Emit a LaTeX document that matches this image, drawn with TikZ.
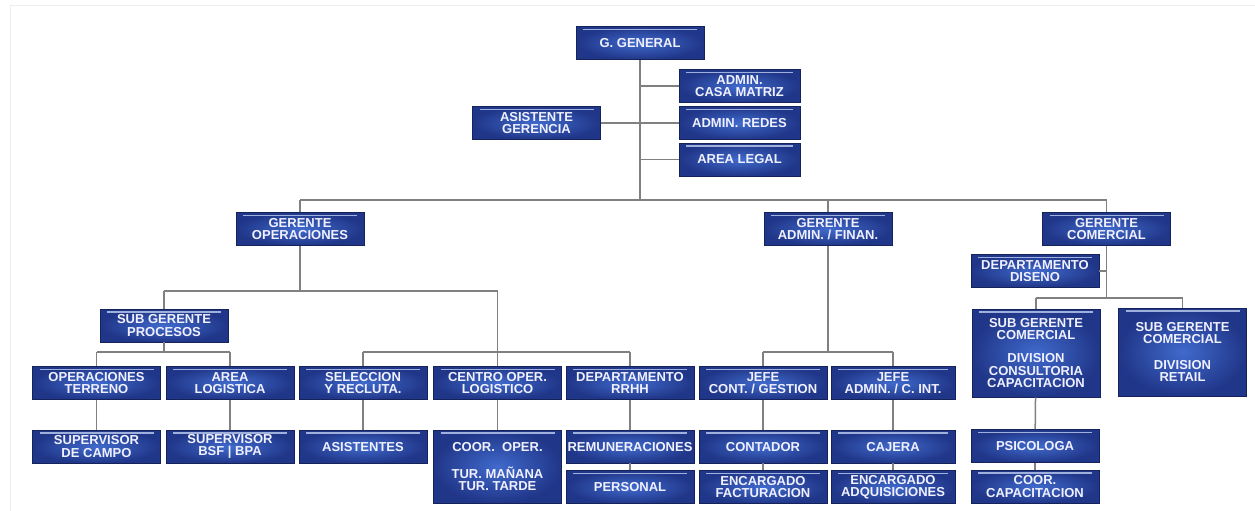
\documentclass[tikz,border=0pt]{standalone}
\usepackage{fontspec}
\setmainfont{Liberation Sans}
\usepackage{tikz}
\usetikzlibrary{positioning}

\definecolor{boxin}{RGB}{64,106,204}
\definecolor{boxout}{RGB}{32,54,136}
\definecolor{boxline}{RGB}{22,34,90}
\definecolor{gloss}{RGB}{160,176,220}
\definecolor{linkgray}{RGB}{128,128,128}

\begin{document}
\begin{tikzpicture}[
            x=1pt, y=-1pt,
            node distance=7pt,
            orgbox/.style={rectangle, draw=boxline, line width=0.6pt, inner color=boxin, outer color=boxout,
                text=white!94!blue, font=\fontsize{13}{12.3}\selectfont\bfseries, align=center,
                minimum width=128pt, minimum height=33pt, inner sep=1pt,
                path picture={\draw[gloss, line width=1.3pt]
                    ([xshift=7pt,yshift=-3pt]path picture bounding box.north west) --
                    ([xshift=-7pt,yshift=-3pt]path picture bounding box.north east);}},
            smallbox/.style={orgbox, minimum width=121pt},
            tallbox/.style={orgbox, minimum height=88pt},
            link/.style={draw=linkgray, line width=1.5pt},
            ]
            \useasboundingbox (0,0) rectangle (1255,511);
            \draw[black!7, line width=1pt] (10,511) -- (10,6) -- (1255,6);

            \node[orgbox]    (gg)      at (640,43)      {G. GENERAL};
            \node[smallbox]  (casa)    at (739.5,86)    {ADMIN.\\CASA MATRIZ};
            \node[smallbox]  (redes)   at (739.5,123)   {ADMIN. REDES};
            \node[smallbox]  (legal)   at (739.5,159.5) {AREA LEGAL};
            \node[orgbox]    (asist)   at (536.5,123)   {ASISTENTE\\GERENCIA};

            \node[orgbox]    (gop)     at (300,229)     {GERENTE\\OPERACIONES};
            \node[orgbox]    (gaf)     at (828,229)     {GERENTE\\ADMIN. / FINAN.};
            \node[orgbox]    (gcom)    at (1106.5,229)  {GERENTE\\COMERCIAL};
            \node[orgbox]    (diseno)  at (1035,271)    {DEPARTAMENTO\\DISENO};

            \node[orgbox]    (sgp)     at (164,325.5)   {SUB GERENTE\\PROCESOS};
            \node[tallbox]   (sgc)     at (1036,353)    {SUB GERENTE\\COMERCIAL\\[11pt]DIVISION\\CONSULTORIA\\CAPACITACION};
            \node[tallbox]   (sgr)     at (1182.5,352)  {SUB GERENTE\\COMERCIAL\\[14pt]DIVISION\\RETAIL};

            \node[orgbox]    (opter)   at (96.5,383)    {OPERACIONES\\TERRENO};
            \node[orgbox]    (arlog)   at (230,383)     {AREA\\LOGISTICA};
            \node[orgbox]    (selec)   at (363,383)     {SELECCION\\Y RECLUTA.};
            \node[orgbox]    (centro)  at (497.5,383)   {CENTRO OPER.\\LOGISTICO};
            \node[orgbox]    (rrhh)    at (630,383)     {DEPARTAMENTO\\RRHH};
            \node[orgbox]    (jcont)   at (763,383)     {JEFE\\CONT. / GESTION};
            \node[orgbox, minimum width=124pt] (jadm) at (893,383) {JEFE\\ADMIN. / C. INT.};

            \node[orgbox]    (supcam)  [below=30pt of opter]  {SUPERVISOR\\DE CAMPO};
            \node[orgbox]    (supbsf)  [below=30pt of arlog]  {SUPERVISOR\\BSF | BPA};
            \node[orgbox]    (asists)  [below=30pt of selec]  {ASISTENTES};
            \node[orgbox, minimum height=73pt] (coor) [below=30pt of centro] {COOR.~~OPER.\\[14pt]TUR. MAÑANA\\TUR. TARDE};
            \node[orgbox]    (remun)   [below=30pt of rrhh]   {REMUNERACIONES};
            \node[orgbox]    (contador) [below=30pt of jcont] {CONTADOR};
            \node[orgbox, minimum width=124pt] (cajera) [below=30pt of jadm] {CAJERA};
            \node[orgbox]    (psico)   at (1035,446)    {PSICOLOGA};

            \node[orgbox]    (personal) [below=of remun]    {PERSONAL};
            \node[orgbox]    (encfac)   [below=of contador] {ENCARGADO\\FACTURACION};
            \node[orgbox, minimum width=124pt] (encadq) [below=of cajera] {ENCARGADO\\ADQUISICIONES};
            \node[orgbox]    (coorcap)  [below=of psico]    {COOR.\\CAPACITACION};

            \coordinate (tb)     at (640,200);
            \coordinate (opbar)  at (300,291);
            \coordinate (lowbar) at (0,352);
            \coordinate (combar) at (0,298);

            \draw[link] (gg) -- (tb);
            \draw[link] (gg |- casa) -- (casa);
            \draw[link] (asist) -- (redes);
            \draw[link] (gg |- legal) -- (legal);
            \draw[link] (gop |- tb) -- (gcom |- tb);
            \draw[link] (gop |- tb) -- (gop);
            \draw[link] (gaf |- tb) -- (gaf);
            \draw[link] (gcom |- tb) -- (gcom);

            \draw[link] (gop) -- (opbar);
            \draw[link] (sgp |- opbar) -- (centro |- opbar);
            \draw[link] (sgp |- opbar) -- (sgp);
            \draw[link] (centro |- opbar) -- (centro);
            \draw[link] (sgp) -- (sgp |- lowbar);
            \draw[link] (opter |- lowbar) -- (arlog |- lowbar);
            \draw[link] (opter |- lowbar) -- (opter);
            \draw[link] (arlog |- lowbar) -- (arlog);
            \draw[link] (selec |- lowbar) -- (rrhh |- lowbar);
            \draw[link] (selec |- lowbar) -- (selec);
            \draw[link] (rrhh |- lowbar) -- (rrhh);

            \draw[link] (gaf) -- (gaf |- lowbar);
            \draw[link] (jcont |- lowbar) -- (jadm |- lowbar);
            \draw[link] (jcont |- lowbar) -- (jcont);
            \draw[link] (jadm |- lowbar) -- (jadm);

            \draw[link] (gcom) -- (gcom |- combar);
            \draw[link] (diseno) -- (gcom |- diseno);
            \draw[link] (sgc |- combar) -- (sgr |- combar);
            \draw[link] (sgc |- combar) -- (sgc);
            \draw[link] (sgr |- combar) -- (sgr);

            \draw[link] (opter) -- (supcam);
            \draw[link] (arlog) -- (supbsf);
            \draw[link] (selec) -- (asists);
            \draw[link] (centro) -- (coor);
            \draw[link] (rrhh) -- (remun);
            \draw[link] (remun) -- (personal);
            \draw[link] (jcont) -- (contador);
            \draw[link] (contador) -- (encfac);
            \draw[link] (jadm) -- (cajera);
            \draw[link] (cajera) -- (encadq);
            \draw[link] (sgc) -- (psico);
            \draw[link] (psico) -- (coorcap);
        \end{tikzpicture}
\end{document}
